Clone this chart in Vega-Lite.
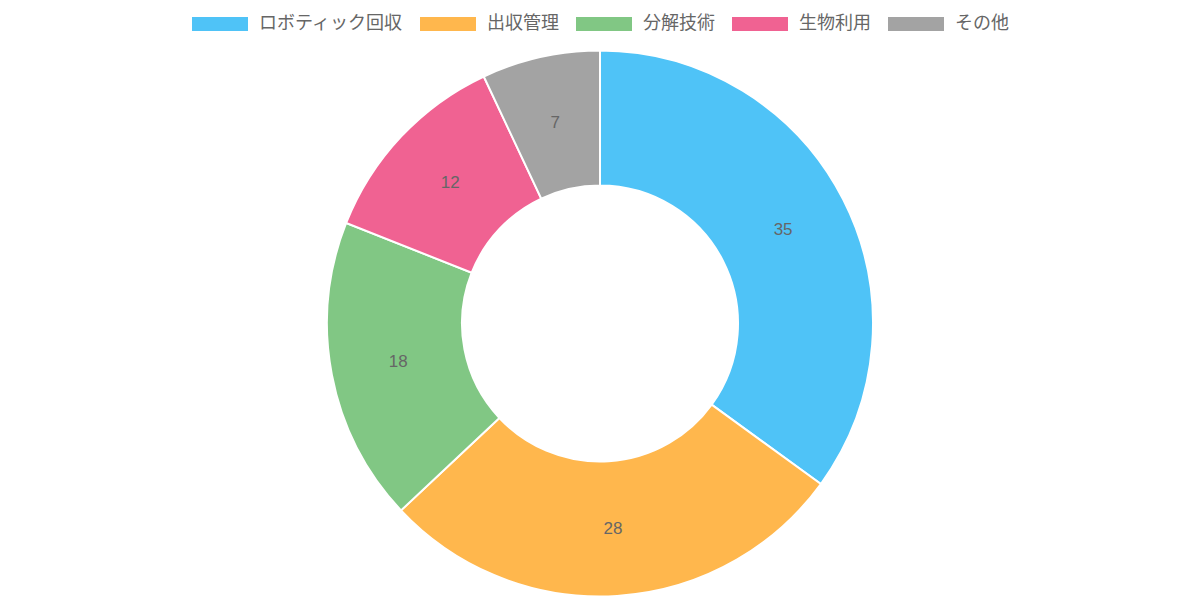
{
  "$schema": "https://vega.github.io/schema/vega-lite/v6.json",
  "width": 1200,
  "height": 547,
  "padding": {"left": 0, "right": 0, "top": 50, "bottom": 0},
  "autosize": {"type": "none"},
  "background": "white",
  "view": {"stroke": null},
  "data": {
    "values": [
      {"idx": 1, "category": "ロボティック回収", "value": 35},
      {"idx": 2, "category": "出収管理", "value": 28},
      {"idx": 3, "category": "分解技術", "value": 18},
      {"idx": 4, "category": "生物利用", "value": 12},
      {"idx": 5, "category": "その他", "value": 7}
    ]
  },
  "encoding": {
    "theta": {"field": "value", "type": "quantitative", "stack": true},
    "order": {"field": "idx", "type": "quantitative", "sort": "ascending"},
    "color": {
      "field": "category",
      "type": "nominal",
      "sort": ["ロボティック回収", "出収管理", "分解技術", "生物利用", "その他"],
      "scale": {
        "domain": ["ロボティック回収", "出収管理", "分解技術", "生物利用", "その他"],
        "range": ["#4FC3F7", "#FFB74D", "#81C784", "#F06292", "#A3A3A3"]
      },
      "legend": {
        "orient": "none",
        "legendX": 192,
        "legendY": -54,
        "direction": "horizontal",
        "title": null,
        "symbolType": "M-1,-0.25H1V0.25H-1Z",
        "symbolSize": 3136,
        "symbolStrokeWidth": 0,
        "symbolOpacity": 1,
        "labelFont": "Noto Sans CJK JP",
        "labelFontSize": 18,
        "labelColor": "#666666",
        "labelOffset": 11,
        "columnPadding": 17,
        "labelLimit": 400
      }
    }
  },
  "layer": [
    {
      "mark": {"type": "arc", "innerRadius": 138, "outerRadius": 273, "stroke": "white", "strokeWidth": 2}
    },
    {
      "mark": {"type": "text", "radius": 205.5, "fontSize": 17, "font": "Liberation Sans", "fill": "#666666"},
      "encoding": {
        "text": {"field": "value", "type": "quantitative"},
        "color": {"value": "#666666"}
      }
    }
  ]
}
